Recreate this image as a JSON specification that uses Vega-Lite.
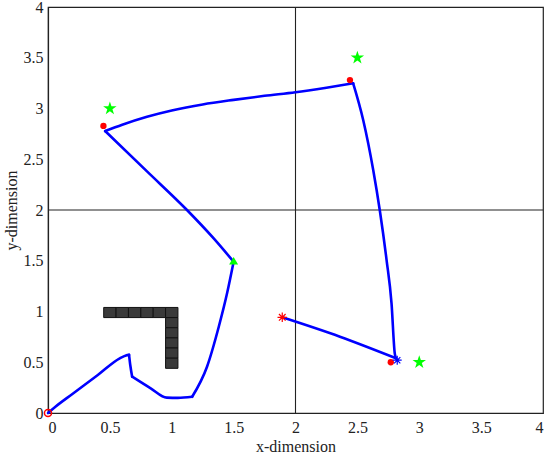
{
  "$schema": "https://vega.github.io/schema/vega-lite/v6.json",
  "width": 495,
  "height": 406,
  "autosize": {"type": "none"},
  "padding": {"left": 48, "top": 7, "right": 7, "bottom": 42},
  "background": "white",
  "config": {
    "view": {"stroke": "#222", "strokeWidth": 1.2},
    "axis": {
      "labelFont": "Liberation Serif",
      "titleFont": "Liberation Serif",
      "labelFontSize": 16,
      "titleFontSize": 16,
      "titleFontWeight": "normal",
      "labelColor": "#222",
      "titleColor": "#222",
      "domainColor": "#222",
      "domainWidth": 1.2,
      "ticks": false,
      "grid": false
    }
  },
  "datasets": {
    "dpath": [
      {"seg": "A", "i": 0, "x": 0, "y": 0},
      {"seg": "A", "i": 1, "x": 0.06, "y": 0.062},
      {"seg": "A", "i": 2, "x": 0.2, "y": 0.19},
      {"seg": "A", "i": 3, "x": 0.4, "y": 0.372},
      {"seg": "A", "i": 4, "x": 0.58, "y": 0.539},
      {"seg": "A", "i": 5, "x": 0.63, "y": 0.567},
      {"seg": "A", "i": 6, "x": 0.655, "y": 0.573},
      {"seg": "B", "i": 0, "x": 0.655, "y": 0.573},
      {"seg": "B", "i": 1, "x": 0.665, "y": 0.47},
      {"seg": "B", "i": 2, "x": 0.68, "y": 0.358},
      {"seg": "C", "i": 0, "x": 0.68, "y": 0.358},
      {"seg": "C", "i": 1, "x": 0.83, "y": 0.243},
      {"seg": "C", "i": 2, "x": 0.96, "y": 0.151},
      {"seg": "C", "i": 3, "x": 1.05, "y": 0.149},
      {"seg": "C", "i": 4, "x": 1.165, "y": 0.16},
      {"seg": "D", "i": 0, "x": 1.165, "y": 0.16},
      {"seg": "D", "i": 1, "x": 1.285, "y": 0.456},
      {"seg": "D", "i": 2, "x": 1.38, "y": 0.85},
      {"seg": "D", "i": 3, "x": 1.447, "y": 1.179},
      {"seg": "D", "i": 4, "x": 1.5, "y": 1.49},
      {"seg": "E", "i": 0, "x": 1.5, "y": 1.49},
      {"seg": "E", "i": 1, "x": 1.339, "y": 1.72},
      {"seg": "E", "i": 2, "x": 1.123, "y": 2.0},
      {"seg": "E", "i": 3, "x": 0.8, "y": 2.38},
      {"seg": "E", "i": 4, "x": 0.462, "y": 2.778},
      {"seg": "F", "i": 0, "x": 0.462, "y": 2.778},
      {"seg": "F", "i": 1, "x": 0.6, "y": 2.84},
      {"seg": "F", "i": 2, "x": 0.8, "y": 2.918},
      {"seg": "F", "i": 3, "x": 1.0, "y": 2.98},
      {"seg": "F", "i": 4, "x": 1.25, "y": 3.04},
      {"seg": "F", "i": 5, "x": 1.5, "y": 3.085},
      {"seg": "F", "i": 6, "x": 1.75, "y": 3.125},
      {"seg": "F", "i": 7, "x": 2.0, "y": 3.16},
      {"seg": "F", "i": 8, "x": 2.25, "y": 3.205},
      {"seg": "F", "i": 9, "x": 2.466, "y": 3.248},
      {"seg": "G", "i": 0, "x": 2.466, "y": 3.248},
      {"seg": "G", "i": 1, "x": 2.547, "y": 2.887},
      {"seg": "G", "i": 2, "x": 2.628, "y": 2.394},
      {"seg": "G", "i": 3, "x": 2.682, "y": 1.99},
      {"seg": "G", "i": 4, "x": 2.736, "y": 1.507},
      {"seg": "G", "i": 5, "x": 2.776, "y": 1.08},
      {"seg": "G", "i": 6, "x": 2.802, "y": 0.588},
      {"seg": "G", "i": 7, "x": 2.812, "y": 0.54},
      {"seg": "H", "i": 0, "x": 2.812, "y": 0.54},
      {"seg": "H", "i": 1, "x": 2.359, "y": 0.752},
      {"seg": "H", "i": 2, "x": 1.893, "y": 0.943}
    ],
    "dobst": [
      {"x0": 0.45, "x1": 0.55, "y0": 0.94, "y1": 1.04},
      {"x0": 0.55, "x1": 0.65, "y0": 0.94, "y1": 1.04},
      {"x0": 0.65, "x1": 0.75, "y0": 0.94, "y1": 1.04},
      {"x0": 0.75, "x1": 0.85, "y0": 0.94, "y1": 1.04},
      {"x0": 0.85, "x1": 0.95, "y0": 0.94, "y1": 1.04},
      {"x0": 0.95, "x1": 1.05, "y0": 0.94, "y1": 1.04},
      {"x0": 0.95, "x1": 1.05, "y0": 0.84, "y1": 0.94},
      {"x0": 0.95, "x1": 1.05, "y0": 0.74, "y1": 0.84},
      {"x0": 0.95, "x1": 1.05, "y0": 0.64, "y1": 0.74},
      {"x0": 0.95, "x1": 1.05, "y0": 0.54, "y1": 0.64},
      {"x0": 0.95, "x1": 1.05, "y0": 0.44, "y1": 0.54}
    ],
    "dmark": [
      {"kind": "dot", "x": 0.448, "y": 2.828},
      {"kind": "dot", "x": 2.44, "y": 3.28},
      {"kind": "dot", "x": 2.77, "y": 0.5},
      {"kind": "star", "x": 0.5, "y": 3.0},
      {"kind": "star", "x": 2.5, "y": 3.5},
      {"kind": "star", "x": 3.0, "y": 0.5},
      {"kind": "tri", "x": 1.5, "y": 1.5},
      {"kind": "ring", "x": 0, "y": 0},
      {"kind": "redast", "x": 1.893, "y": 0.943},
      {"kind": "blueast", "x": 2.822, "y": 0.52}
    ],
    "dcross": [
      {"x": 2, "y": 2}
    ]
  },
  "encoding": {
    "x": {"field": "x", "type": "quantitative", "scale": {"domain": [0, 4], "nice": false, "zero": false},
          "axis": {"orient": "bottom", "values": [0, 0.5, 1, 1.5, 2, 2.5, 3, 3.5, 4], "format": "~g", "title": "x-dimension", "labelPadding": 6, "titlePadding": 3}},
    "y": {"field": "y", "type": "quantitative", "scale": {"domain": [0, 4], "nice": false, "zero": false},
          "axis": {"orient": "left", "values": [0, 0.5, 1, 1.5, 2, 2.5, 3, 3.5, 4], "format": "~g", "title": "y-dimension", "labelPadding": 5, "titlePadding": 4}}
  },
  "layer": [
    {
      "data": {"name": "dcross"},
      "mark": {"type": "rule", "color": "#222", "strokeWidth": 1.1},
      "encoding": {"y": null}
    },
    {
      "data": {"name": "dcross"},
      "mark": {"type": "rule", "color": "#222", "strokeWidth": 1.1},
      "encoding": {"x": null}
    },
    {
      "data": {"name": "dobst"},
      "mark": {"type": "rect", "fill": "#3a3a3a", "stroke": "#111", "strokeWidth": 1},
      "encoding": {
        "x": {"field": "x0", "type": "quantitative"},
        "x2": {"field": "x1"},
        "y": {"field": "y0", "type": "quantitative"},
        "y2": {"field": "y1"}
      }
    },
    {
      "data": {"name": "dpath"},
      "mark": {"type": "line", "color": "#0000ff", "strokeWidth": 2.6, "strokeJoin": "round", "strokeCap": "round", "interpolate": "monotone"},
      "encoding": {
        "detail": {"field": "seg", "type": "nominal"},
        "order": {"field": "i", "type": "quantitative"}
      }
    },
    {
      "data": {"name": "dmark"},
      "transform": [{"filter": "datum.kind == 'dot'"}],
      "mark": {"type": "point", "shape": "circle", "filled": true, "color": "#ff0000", "size": 40, "opacity": 1}
    },
    {
      "data": {"name": "dmark"},
      "transform": [{"filter": "datum.kind == 'tri'"}],
      "mark": {"type": "point", "shape": "triangle-up", "filled": true, "color": "#00ff00", "size": 80, "opacity": 1}
    },
    {
      "data": {"name": "dmark"},
      "transform": [{"filter": "datum.kind == 'ring'"}],
      "mark": {"type": "point", "shape": "circle", "filled": false, "color": "#ff0000", "strokeWidth": 1.5, "size": 50, "opacity": 1}
    },
    {
      "data": {"name": "dmark"},
      "transform": [{"filter": "datum.kind == 'star'"}],
      "mark": {"type": "point", "shape": "M0,-1L0.225,-0.309L0.951,-0.309L0.363,0.118L0.588,0.809L0,0.382L-0.588,0.809L-0.363,0.118L-0.951,-0.309L-0.225,-0.309Z", "filled": true, "color": "#00ff00", "size": 200, "opacity": 1}
    },
    {
      "data": {"name": "dmark"},
      "transform": [{"filter": "datum.kind == 'redast'"}],
      "mark": {"type": "point", "shape": "M-1,0L1,0M0,-1L0,1M-0.7,-0.7L0.7,0.7M-0.7,0.7L0.7,-0.7", "filled": false, "color": "#ff0000", "strokeWidth": 1.2, "size": 90, "opacity": 1}
    },
    {
      "data": {"name": "dmark"},
      "transform": [{"filter": "datum.kind == 'blueast'"}],
      "mark": {"type": "point", "shape": "M-1,0L1,0M0,-1L0,1M-0.7,-0.7L0.7,0.7M-0.7,0.7L0.7,-0.7", "filled": false, "color": "#0000ff", "strokeWidth": 1.2, "size": 80, "opacity": 1}
    }
  ]
}
